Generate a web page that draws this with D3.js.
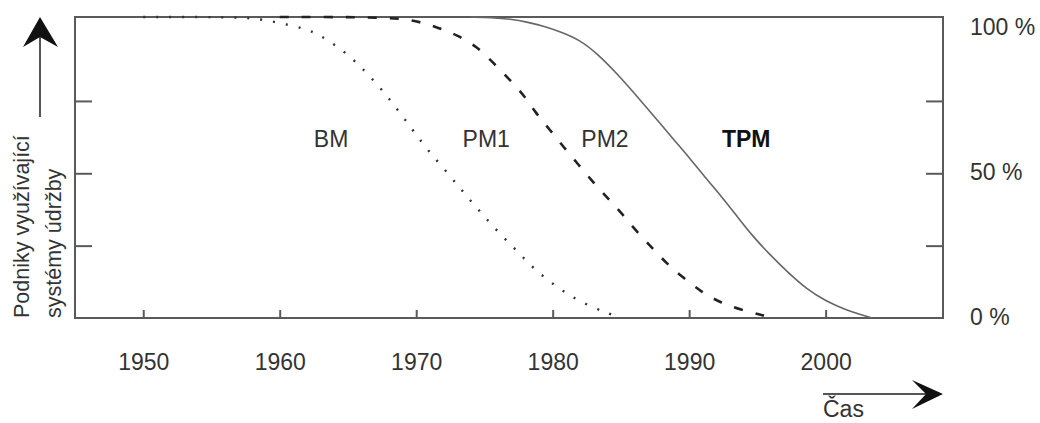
<!doctype html>
<html>
  <head>
    <script src="https://cdnjs.cloudflare.com/ajax/libs/d3/7.8.5/d3.min.js" type="text/JavaScript"></script>
    <style>
      body { margin: 0; background: #fff; }
      text { font-family: "Liberation Sans", Arial, sans-serif; }
    </style>
  </head>
  <body>
    <div id="viz">
      <svg style="width:1040px;height:423px;"></svg>
    </div>
    <script>
      // curves: [year, share of firms in %]
      var bmData = [[1950,104],[1956,104],[1958,103.7],[1960,102],[1962,99.8],[1963,97.5],[1964,94.5],
        [1965,91],[1966,86.5],[1967.4,79.5],[1968.6,72.2],[1969.8,64.6],[1970.9,57.7],[1972.25,50.4],
        [1973.5,43.2],[1974.7,36.6],[1976,29.7],[1977.4,23.1],[1978.7,16.6],[1980.3,10.7],[1982,5.5],
        [1984,1.7],[1985,0]];
      var pmData = [[1960,104],[1965,104],[1968,103.7],[1969.8,103],[1971.5,100.5],[1973,97.8],
        [1974.5,93.6],[1975.6,88.4],[1976.8,82.6],[1977.9,77],[1978.7,71.2],[1979.8,65],[1980.8,59.1],
        [1981.85,53.2],[1982.9,47.3],[1984,41.5],[1985,36.6],[1986.1,30.1],[1987.25,24.5],[1988.3,19],
        [1989.6,13.8],[1990.9,9],[1992.2,5.5],[1993.8,2.8],[1995.4,1],[1996,0]];
      var tpmData = [[1974,104],[1975.5,103.8],[1976.9,103.3],[1978.2,102.2],[1979.4,100.8],[1980.5,99],
        [1982,96.1],[1983.3,91.2],[1984.8,84],[1985.9,78.1],[1986.9,72.6],[1987.85,67.4],[1988.8,62],
        [1990.05,55.2],[1991.1,49],[1992.4,41.8],[1993.5,35.2],[1994.7,28],[1995.9,22],[1997.2,15.9],
        [1998.6,10],[2000.1,5.6],[2001.5,2.8],[2002.7,1],[2003.4,0]];

      var yearTicks = [1950, 1960, 1970, 1980, 1990, 2000];
      var shareTicks = [25, 50, 75];
      var shareLabels = [[100, "100 %"], [50, "50 %"], [0, "0 %"]];
      var curveLabels = [
        {text: "BM", year: 1962.5, share: 59, bold: false},
        {text: "PM1", year: 1973.4, share: 59, bold: false},
        {text: "PM2", year: 1982.1, share: 59, bold: false},
        {text: "TPM", year: 1992.4, share: 59, bold: true}
      ];

      var plotLeft = 75, plotRight = 943, plotTop = 17, plotBottom = 318;
      var svg = d3.select("svg");

      var xScale = d3.scaleLinear().domain([1945, 2008.6]).range([plotLeft, plotRight]);
      var yScale = d3.scaleLinear().domain([0, 104]).range([plotBottom, plotTop]);

      // frame
      svg.append("rect").attr("x", plotLeft).attr("y", plotTop)
        .attr("width", plotRight - plotLeft).attr("height", plotBottom - plotTop)
        .attr("fill", "none").attr("stroke", "#5a5a5a").attr("stroke-width", 2);

      var xAxis = d3.axisBottom(xScale).tickValues(yearTicks).tickSize(-8)
        .tickPadding(36).tickFormat(d3.format("d"));
      var xg = svg.append("g").attr("transform", "translate(0," + plotBottom + ")").call(xAxis);
      xg.select(".domain").remove();
      xg.selectAll("line").attr("stroke", "#5a5a5a").attr("stroke-width", 2);
      xg.selectAll("text").attr("font-size", 23).attr("fill", "#333")
        .attr("font-family", "'Liberation Sans', Arial, sans-serif");

      var yl = svg.append("g").attr("transform", "translate(" + plotLeft + ",0)")
        .call(d3.axisLeft(yScale).tickValues(shareTicks).tickSize(-17).tickFormat(""));
      var yrg = svg.append("g").attr("transform", "translate(" + plotRight + ",0)")
        .call(d3.axisRight(yScale).tickValues(shareTicks).tickSize(-17).tickFormat(""));
      [yl, yrg].forEach(function(g) {
        g.select(".domain").remove();
        g.selectAll("line").attr("stroke", "#5a5a5a").attr("stroke-width", 2);
      });

      svg.selectAll(".share").data(shareLabels).enter().append("text")
        .attr("x", plotRight + 27).attr("y", d => yScale(d[0])).attr("dy", "0.3em")
        .attr("font-size", 23).attr("fill", "#333").text(d => d[1]);

      var line = d3.line().x(d => xScale(d[0])).y(d => yScale(d[1])).curve(d3.curveBasis);

      svg.append("path").datum(bmData).attr("d", line).attr("fill", "none")
        .attr("stroke", "#333").attr("stroke-width", 2.4).attr("stroke-dasharray", "2 11");
      svg.append("path").datum(pmData).attr("d", line).attr("fill", "none")
        .attr("stroke", "#222").attr("stroke-width", 2.6).attr("stroke-dasharray", "9 13");
      svg.append("path").datum(tpmData).attr("d", line).attr("fill", "none")
        .attr("stroke", "#666").attr("stroke-width", 1.6);

      svg.selectAll(".curve-label").data(curveLabels).enter().append("text")
        .attr("x", d => xScale(d.year)).attr("y", d => yScale(d.share))
        .attr("font-size", 23).attr("fill", d => d.bold ? "#111" : "#333")
        .attr("font-weight", d => d.bold ? "bold" : "normal").text(d => d.text);

      // y axis title with arrow
      var ytitle = svg.append("text").attr("transform", "translate(29,318) rotate(-90)")
        .attr("font-size", 21.5).attr("fill", "#333");
      ytitle.append("tspan").attr("x", 0).attr("y", 0).text("Podniky využívající");
      ytitle.append("tspan").attr("x", 0).attr("y", 32).text("systémy údržby");

      svg.append("line").attr("x1", 40).attr("y1", 117).attr("x2", 40).attr("y2", 32)
        .attr("stroke", "#555").attr("stroke-width", 2);
      svg.append("path").attr("d", "M40,17 L58,47 L40,37 L23,47 Z").attr("fill", "#111");

      // x axis title with arrow
      svg.append("line").attr("x1", 823).attr("y1", 394).attr("x2", 930).attr("y2", 394)
        .attr("stroke", "#555").attr("stroke-width", 2);
      svg.append("path").attr("d", "M943,394 L912,380 L926,394 L912,409 Z").attr("fill", "#111");
      svg.append("text").attr("x", 823).attr("y", 417).attr("font-size", 23)
        .attr("fill", "#333").text("Čas");
    </script>
  </body>
</html>
